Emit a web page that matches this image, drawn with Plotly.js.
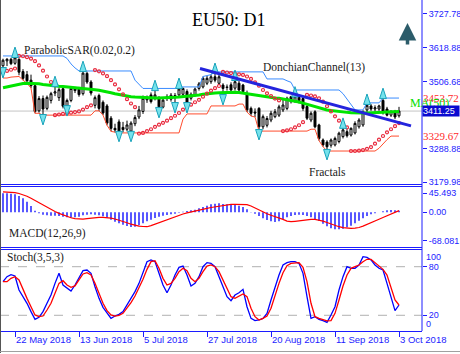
<!DOCTYPE html>
<html><head><meta charset="utf-8">
<script src="https://cdn.plot.ly/plotly-3.0.1.min.js"></script>
<style>html,body{margin:0;padding:0;background:#fff;}#chart{width:460px;height:354px;}</style>
</head><body><div id="chart"></div>
<script>
// ---- data ----
const tickIdx = [3, 19, 35, 51, 67, 83, 99];
const tickLabels = ['22 May 2018','13 Jun 2018','5 Jul 2018','27 Jul 2018','20 Aug 2018','11 Sep 2018','3 Oct 2018'];

const openP = [3559,3575,3580,3567,3580,3540,3530,3512,3494,3412, 3452,3420,3446,3470,3455,3484,3428,3446,3486,3483,
 3468,3534,3506,3430,3462,3440,3428,3388,3355,3376, 3358,3352,3346,3370,3392,3410,3448,3464,3452,3455,
 3424,3452,3450,3462,3464,3466,3475,3453,3464,3485, 3490,3502,3507,3523,3502,3496,3490,3497,3486,3502,
 3496,3469,3420,3408,3420,3360,3365,3382,3393,3398, 3415,3420,3458,3445,3456,3452,3426,3382,3409,3366,
 3317,3310,3300,3301,3312,3328,3344,3333,3340,3360, 3366,3415,3428,3418,3418,3446,3418,3398,3410,3396];
const highP = [3582,3584,3585,3591,3583,3548,3542,3530,3500,3460, 3462,3462,3474,3496,3488,3490,3452,3492,3490,3490,
 3542,3540,3512,3462,3468,3446,3434,3395,3370,3384, 3376,3380,3378,3398,3428,3462,3462,3472,3483,3460,
 3452,3466,3470,3470,3490,3488,3482,3472,3488,3506, 3524,3526,3530,3539,3530,3502,3498,3505,3516,3510,
 3500,3478,3426,3420,3424,3400,3395,3412,3418,3432, 3448,3458,3461,3468,3460,3456,3432,3410,3414,3370,
 3322,3316,3322,3328,3344,3360,3352,3358,3378,3388, 3414,3438,3434,3430,3432,3453.72,3425,3414,3415,3425];
const lowP = [3548,3558,3561,3562,3528,3512,3502,3486,3404,3406, 3398,3414,3436,3460,3444,3420,3412,3440,3470,3458,
 3462,3500,3462,3420,3412,3398,3365,3345,3342,3340, 3342,3345,3340,3362,3385,3402,3438,3436,3446,3418,
 3420,3444,3442,3434,3458,3460,3434,3446,3458,3478, 3485,3496,3500,3505,3496,3460,3478,3472,3478,3474,
 3468,3408,3395,3392,3346,3352,3358,3375,3388,3392, 3408,3414,3436,3438,3436,3412,3382,3375,3355,3315,
 3295,3281,3292,3296,3306,3322,3325,3328,3335,3354, 3360,3408,3412,3410,3412,3400,3394,3392,3385,3390];
const closeP = [3577,3580,3566,3585,3538,3518,3510,3494,3410,3452, 3418,3456,3468,3474,3481,3427,3446,3485,3478,3465,
 3535,3506,3470,3455,3420,3405,3372,3355,3350,3346, 3351,3366,3372,3390,3415,3453,3452,3442,3464,3425,
 3447,3458,3463,3455,3483,3485,3440,3466,3483,3500, 3518,3518,3523,3512,3523,3485,3488,3480,3507,3480,
 3475,3415,3404,3405,3360,3393,3387,3404,3409,3425, 3431,3453,3442,3458,3445,3420,3388,3404,3360,3322,
 3301,3295,3317,3322,3339,3350,3331,3355,3371,3382, 3409,3430,3418,3422,3428,3406,3398,3410,3392,3411.25];

const ma50 = [3487,3490,3493,3496,3499,3501,3502,3502,3501,3500, 3498,3496,3494,3493,3492,3491,3490,3489,3488,3487,
 3486,3485,3483,3481,3479,3477,3474,3471,3468,3465, 3462,3460,3458,3457,3456,3455,3454,3454,3454,3454,
 3454,3454,3455,3456,3457,3458,3459,3461,3463,3464, 3466,3468,3469,3470,3471,3472,3473,3473,3473,3472,
 3470,3468,3465,3462,3460,3458,3456,3455,3454,3453, 3451,3449,3447,3444,3441,3437,3433,3429,3425,3421,
 3418,3415,3413,3411,3409,3408,3407,3406,3405,3405, 3405,3405,3405,3406,3406,3407,3408,3408,3409,3410];

const dcUpper = [3591,3591,3591,3591,3591,3591,3591,3591,3591,3591, 3591,3591,3591,3591,3591,3591,3583,3565,3552,3542,
 3542,3542,3542,3542,3542,3542,3542,3542,3542,3542, 3542,3542,3542,3512,3498,3485,3485,3485,3485,3485,
 3485,3485,3485,3485,3490,3490,3490,3490,3490,3490, 3524,3526,3530,3539,3539,3539,3539,3539,3539,3539,
 3539,3539,3539,3539,3539,3539,3516,3516,3516,3516, 3516,3510,3505,3480,3480,3480,3480,3480,3480,3480,
 3480,3480,3480,3480,3480,3468,3450,3430,3415,3415, 3415,3438,3438,3438,3438,3453.72,3453.72,3453.72,3453.72,3453.72];
const dcLower = [3519,3519,3522,3524,3524,3512,3502,3486,3404,3404, 3398,3398,3398,3398,3398,3398,3398,3398,3398,3398,
 3398,3398,3398,3412,3412,3398,3365,3345,3342,3340, 3340,3340,3340,3340,3340,3340,3340,3340,3340,3340,
 3340,3340,3340,3340,3340,3385,3402,3402,3402,3402, 3402,3402,3428,3428,3428,3428,3428,3428,3428,3434,
 3434,3408,3395,3392,3346,3346,3346,3346,3346,3346, 3346,3346,3346,3346,3346,3346,3346,3352,3352,3315,
 3295,3281,3281,3281,3281,3281,3281,3281,3281,3281, 3281,3281,3281,3281,3290,3305,3318,3329.67,3329.67,3329.67];

const sar = [3538,3542,3546,3550,3591,3590,3587,3582,3574,3560, 3543,3524,3506,3398,3400,3402,3404,3406,3408,3410,
 3416,3424,3430,3545,3541,3534,3525,3512,3498,3482, 3466,3450,3436,3424,3338,3340,3346,3352,3360,3367,
 3373,3380,3388,3396,3405,3416,3426,3432,3440,3448, 3458,3468,3478,3486,3493,3539,3537,3535,3533,3531,
 3529,3524,3516,3505,3494,3480,3469,3460,3452,3446, 3346,3348,3352,3358,3365,3375,3464,3462,3459,3453,
 3442,3427,3410,3394,3380,3369,3358,3281,3281,3282, 3284,3288,3294,3305,3318,3330,3342,3352,3362,3372];

const fracUpIdx = [3, 13, 20, 38, 44, 53, 58, 73, 85, 91, 95];
const fracUpVal = [3620, 3525, 3574, 3512, 3519, 3568, 3545, 3491, 3389, 3467, 3486];
const fracDnIdx = [0, 10, 16, 29, 32, 39, 43, 46, 55, 64, 81];
const fracDnVal = [3519, 3366, 3395, 3311, 3311, 3389, 3405, 3405, 3431, 3317, 3252];

const trendIdx = [49.25, 102];
const trendVal = [3550, 3363];

const macdHist = [45.5,45.4,44.6,43,39,33.5,25.5,15,4,-2.5, -5.6,-7.2,-8,-8,-8.8,-10.4,-12,-12.8,-12,-10.4,
 -7.2,-5.6,-4.8,-5.6,-7.2,-9.6,-12.8,-17.6,-22.4,-26.4, -29.6,-32.8,-35.2,-34.4,-31.2,-26.4,-21.6,-17.6,-13.6,-10.4,
 -8,-6.4,-4.8,-3.2,-0.8,1.5,3.1,4.7,6.3,9.5, 12.7,15.9,19.1,20.7,21.5,19.9,19.1,18.3,17.5,15.9,
 12.7,7.1,0.8,-3.2,-8.8,-14.4,-18.4,-21.6,-23.2,-21.6, -16.8,-12,-8.8,-6.4,-5.6,-6.4,-8.8,-12,-16,-20.8,
 -27.2,-33.6,-38.4,-40.8,-40.8,-39.2,-36,-32,-26.4,-20, -14.4,-8.8,-4.8,-2.5,0,2.3,4.7,5.5,4.7,3.9];
const macdSignal = [49,48.5,48,47,45,42,38.5,33.5,28,22.5, 17,11.5,6.5,2,-2.5,-6.5,-10,-13,-15,-16.5,
 -16.5,-15,-13.5,-12.5,-12,-12,-12.5,-14,-16,-18.5, -21.5,-25,-28.5,-31.5,-33,-34,-34.5,-32,-28.5,-24,
 -20,-16.5,-13,-9.5,-6.5,-4,-1.5,1,3,5.5, 7.5,9.5,11.5,13,15,16.5,18,19,19,19,
 19,18.5,15,10,5,0,-3.5,-7,-10,-13.5, -17,-21,-22.5,-21.5,-20,-19,-18,-17,-16.8,-18,
 -21,-24.5,-28,-31.5,-34.5,-36.5,-38,-38.4,-38,-36.5, -33,-28.5,-24,-20,-16.5,-12.5,-8,-4,0,4];

const stochMain = [61.5,67.7,70.1,68.5,51.2,43,34.8,24.5,15,17.5, 24.5,34.8,45,59.4,71.8,57.4,53.3,50,57.4,65.6,
 75.1,75.9,71.8,55.3,40.9,29.8,22.4,16.2,19.1,21.2, 24.5,32.7,39.7,49.2,59.4,73.9,86.2,88.3,86.2,71.8,
 57.4,47.9,57.4,69.7,79.2,80.8,69.7,56.2,59.4,67.7, 80,85,84.1,80,67.7,55.3,43,38,45,47.9,
 52,30.6,16.2,13.4,14.2,16.2,22.4,38.9,55.3,69.7, 82.1,85,86.2,86.2,84.1,71.8,43,16.2,18.3,15,
 13.4,11.3,20.4,30.6,51.2,67.7,80,78,78,82.1, 92.4,91.5,88.3,82.1,78,75.9,59.4,40.9,25.7,32.7];
const stochSignal = [61.5,61.5,65.6,67.7,63.6,51.2,40.9,30.6,20.4,18.3, 19.1,26.5,34.8,47.1,59.4,62.7,57.4,54.5,56.2,63.6,
 71,72.6,69.7,59.4,47.1,34.8,25.7,20.4,19.1,20, 22.4,28.6,35.6,43.8,53.3,64.4,76.7,86.2,87.4,78,
 65.6,57.4,59.4,65.6,73.9,78,75.1,65.6,61.5,65.6, 73.9,80.8,82.1,80,73.9,63.6,52,43,41,43.8,
 46.3,43,28.6,18.3,14.2,16.2,19.1,28.6,45,59.4, 72.6,81.3,84.1,85,85,79.2,61.5,34.8,18.3,16.2,
 14.2,13,13.4,22.4,38.9,56.2,69.7,78,80,82.1, 86.2,89.1,89.1,85,80,76.7,69.7,53.3,38.9,32.7];

const priceTicks = [3727.78, 3618.88, 3506.68, 3288.88, 3179.98];
const priceTickText = ['3727.78','3618.88','3506.68','3288.88','3179.98'];
const lastPrice = 3411.25;
const lastPriceText = '3411.25';
const dcUpperText = '3453.72';
const dcLowerText = '3329.67';
const macdTicks = [45.493, 0, -68.081];
const macdTickText = ['45.493','0.00','-68.081'];
const stochLevels = [80, 20];

// ---- layout helpers (pixel -> paper) ----
const PW = 422, PH = 331;
const PX = p => p / PW;
const PY = p => (PH - p) / PH;

const idx = closeP.map((_, i) => i);
const BLUE = '#1c1cff';
const serif = 'Liberation Serif, Times New Roman, serif';
const sans = 'Liberation Sans, Arial, sans-serif';

const traces = [
  {type:'scatter', mode:'lines', x:idx, y:dcUpper, line:{color:'#3a8cff', width:1}, hoverinfo:'skip'},
  {type:'scatter', mode:'lines', x:idx, y:dcLower, line:{color:'#ff4d2e', width:1}, hoverinfo:'skip'},
  {type:'candlestick', x:idx, open:openP, high:highP, low:lowP, close:closeP,
    increasing:{line:{color:'#000000', width:1}, fillcolor:'#ffffff'},
    decreasing:{line:{color:'#000000', width:1}, fillcolor:'#000000'},
    whiskerwidth:0, hoverinfo:'skip'},
  {type:'scatter', mode:'lines', x:idx, y:ma50, line:{color:'#00e400', width:3}, hoverinfo:'skip'},
  {type:'scatter', mode:'markers', x:idx, y:sar, marker:{symbol:'circle-open', size:3, color:'#e8283c', line:{width:1.2, color:'#e8283c'}}, hoverinfo:'skip'},
  {type:'scatter', mode:'markers', x:fracUpIdx, y:fracUpVal, marker:{symbol:'arrow', size:11, color:'#74e2ec', line:{width:1, color:'#1aa3bb'}}, hoverinfo:'skip'},
  {type:'scatter', mode:'markers', x:fracDnIdx, y:fracDnVal, marker:{symbol:'arrow', angle:180, size:11, color:'#74e2ec', line:{width:1, color:'#1aa3bb'}}, hoverinfo:'skip'},
  {type:'scatter', mode:'lines', x:trendIdx, y:trendVal, line:{color:'#2424dd', width:3}, hoverinfo:'skip'},
  {type:'bar', x:idx, y:macdHist, width:0.33, marker:{color:'#0000ff', line:{width:0}}, yaxis:'y2', hoverinfo:'skip'},
  {type:'scatter', mode:'lines', x:idx, y:macdSignal, line:{color:'#ff0000', width:1.2}, yaxis:'y2', hoverinfo:'skip'},
  {type:'scatter', mode:'lines', x:idx, y:stochMain, line:{color:'#0000ff', width:1.3}, yaxis:'y3', hoverinfo:'skip'},
  {type:'scatter', mode:'lines', x:idx, y:stochSignal, line:{color:'#ff0000', width:1.3}, yaxis:'y3', hoverinfo:'skip'}
];

const axFont = {family:sans, size:9, color:BLUE};
const yCommon = {side:'right', anchor:'x', showgrid:false, zeroline:false, showline:false,
  ticks:'outside', ticklen:4, tickcolor:BLUE, tickfont:axFont, fixedrange:true};

const annLabel = (text, px, py, extra) => Object.assign({text, xref:'paper', yref:'paper', x:PX(px), y:PY(py),
  xanchor:'left', yanchor:'middle', showarrow:false, font:{family:serif, size:11.5, color:'#1a1a1a'}}, extra || {});

const layout = {
  width:460, height:354,
  margin:{l:0, r:38, t:0, b:23, pad:0},
  paper_bgcolor:'#ffffff', plot_bgcolor:'#ffffff',
  showlegend:false, hovermode:false, dragmode:false,
  xaxis:{range:[-0.75, 104.75], anchor:'y3', tickvals:tickIdx, ticktext:tickLabels,
    ticks:'outside', ticklen:5, tickcolor:BLUE, tickfont:{family:sans, size:9.5, color:BLUE}, tickangle:0,
    ticklabelposition:'outside right',
    showline:true, linecolor:BLUE, linewidth:1, showgrid:false, zeroline:false,
    rangeslider:{visible:false}, fixedrange:true},
  yaxis:Object.assign({}, yCommon, {domain:[PY(185), 1], range:[3170.2, 3773.4], tickvals:priceTicks, ticktext:priceTickText}),
  yaxis2:Object.assign({}, yCommon, {domain:[PY(248), PY(187)], range:[-85.5, 60.6], tickvals:macdTicks, ticktext:macdTickText}),
  yaxis3:Object.assign({}, yCommon, {domain:[0, PY(250)], range:[0.6, 100.6], tickvals:stochLevels, ticktext:stochLevels.map(String)}),
  shapes:[
    {type:'line', xref:'paper', yref:'y', x0:0, x1:1, y0:lastPrice, y1:lastPrice, line:{color:'#c4c4c4', width:1}, layer:'below'},
    {type:'line', xref:'paper', yref:'y3', x0:0, x1:1, y0:stochLevels[0], y1:stochLevels[0], line:{color:'#b0b0b0', width:1, dash:'dash'}, layer:'below'},
    {type:'line', xref:'paper', yref:'y3', x0:0, x1:1, y0:stochLevels[1], y1:stochLevels[1], line:{color:'#b0b0b0', width:1, dash:'dash'}, layer:'below'},
    {type:'line', xref:'paper', yref:'paper', x0:0, x1:1, y0:PY(184.5), y1:PY(184.5), line:{color:BLUE, width:1}},
    {type:'line', xref:'paper', yref:'paper', x0:0, x1:1, y0:PY(186.5), y1:PY(186.5), line:{color:BLUE, width:1}},
    {type:'line', xref:'paper', yref:'paper', x0:0, x1:1, y0:PY(247.5), y1:PY(247.5), line:{color:BLUE, width:1}},
    {type:'line', xref:'paper', yref:'paper', x0:0, x1:1, y0:PY(249.5), y1:PY(249.5), line:{color:BLUE, width:1}},
    {type:'line', xref:'paper', yref:'paper', x0:1, x1:1, y0:0, y1:1, line:{color:BLUE, width:1}},
    {type:'line', xref:'paper', yref:'paper', x0:PX(0.5), x1:PX(0.5), y0:PY(353), y1:1, line:{color:'#555555', width:1}},
    {type:'line', xref:'paper', yref:'paper', x0:0, x1:PX(460), y0:PY(351.5), y1:PY(351.5), line:{color:'#a0a0a0', width:1}}
  ],
  annotations:[
    {text:'EU50: D1', xref:'paper', yref:'paper', x:PX(229), y:PY(20), xanchor:'center', yanchor:'middle', showarrow:false,
      font:{family:serif, size:18, color:'#000000'}},
    {text:'', xref:'paper', yref:'paper', x:PX(407.5), y:PY(23), ax:0, ay:23, showarrow:true,
      arrowhead:2, arrowsize:1, arrowwidth:3.5, arrowcolor:'#2c5c6a'},
    annLabel('ParabolicSAR(0.02,0.2)', 22, 50.5),
    annLabel('DonchianChannel(13)', 261, 68),
    annLabel('Fractals', 307, 172),
    annLabel('MACD(12,26,9)', 7, 233),
    annLabel('Stoch(3,5,3)', 5, 257.5),
    {text:dcUpperText, xref:'paper', yref:'y', x:PX(421), y:3453.72, xanchor:'left', yanchor:'middle', showarrow:false,
      font:{family:serif, size:11, color:'#ff2a2a'}},
    {text:dcLowerText, xref:'paper', yref:'y', x:PX(421), y:3329.67, xanchor:'left', yanchor:'middle', showarrow:false,
      font:{family:serif, size:11, color:'#ff2a2a'}},
    annLabel('MA(50)', 408, 103, {font:{family:serif, size:12, color:'#00dd00'}}),
    {text:lastPriceText, xref:'paper', yref:'y', x:PX(422), y:lastPrice, xanchor:'left', yanchor:'middle', showarrow:false,
      bgcolor:'#0a0ad0', borderpad:0, width:36, align:'left', font:{family:sans, size:9, color:'#ffffff'}},
    {text:'100', xref:'paper', yref:'paper', x:PX(424), y:PY(256.7), xanchor:'left', yanchor:'middle', showarrow:false, font:axFont},
    {text:'0', xref:'paper', yref:'paper', x:PX(424), y:PY(324), xanchor:'left', yanchor:'middle', showarrow:false, font:axFont}
  ]
};

Plotly.newPlot('chart', traces, layout, {displayModeBar:false, staticPlot:true});
</script>
</body></html>
